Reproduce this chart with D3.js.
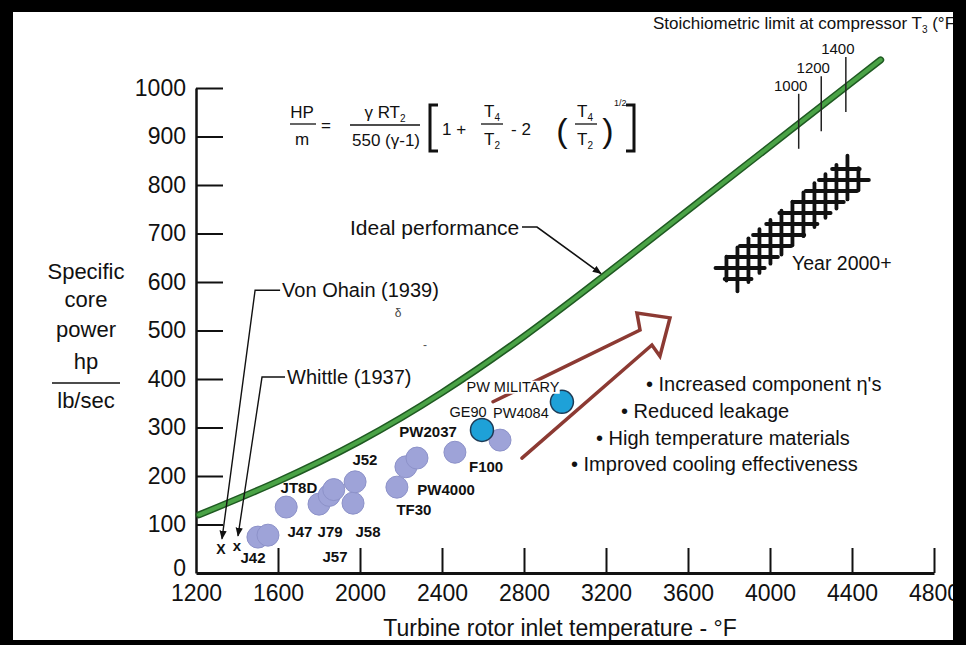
<!DOCTYPE html>
<html>
<head>
<meta charset="utf-8">
<script src="https://cdn.jsdelivr.net/npm/d3@7"></script>
<style>
    body { margin: 0; background: #fff; }
    svg { display: block; font-family: "Liberation Sans", Arial, sans-serif; }
</style>
</head>
<body>
<div id="chart"></div>
<script>
// --- data ---
const xTicks = [1200, 1600, 2000, 2400, 2800, 3200, 3600, 4000, 4400, 4800]
const yTicks = [0, 100, 200, 300, 400, 500, 600, 700, 800, 900, 1000]

// ideal performance curve (turbine inlet temp °F, hp/(lb/sec))
const idealTemp = [1215, 1600, 2000, 2400, 2800, 3200, 3600, 4000, 4400, 4540]
const idealHp = [120, 189, 272, 372, 488, 616, 748, 880, 1012, 1058]

// stoichiometric limit at compressor T3 marks along the ideal curve
const stoichLabels = ["1000", "1200", "1400"]
const stoichTemp = [4140, 4250, 4370]

// engine points
const pointTemp = [1502, 1551, 1640, 1800, 1850, 1872, 1966, 1976, 2180, 2224, 2278, 2463, 2683, 2595, 2985]
const pointHp = [74, 78, 136, 142, 160, 172, 144, 188, 177, 219, 237, 249, 274, 295, 353]
const pointKind = ["old", "old", "old", "old", "old", "old", "old", "old", "old", "old", "old", "old", "old", "new", "new"]

// engine labels, anchored in data units
const engineLabels = ["J42", "J47", "J79", "J58", "J57", "JT8D", "J52", "TF30", "PW4000", "F100", "PW2037"]
const engineLabelTemp = [1478, 1707, 1854, 2039, 1878, 1702, 2024, 2263, 2420, 2615, 2332]
const engineLabelHp = [31, 85, 85, 85, 33, 175, 233, 130, 171, 219, 291]

const modernLabels = ["GE90", "PW4084", "PW MILITARY"]
const modernLabelTemp = [2527, 2785, 2746]
const modernLabelHp = [332, 330, 384]

// first jet engines
const pioneerNames = ["Von Ohain (1939)", "Whittle (1937)"]
const pioneerMarks = ["X", "x"]
const pioneerTemp = [1322, 1400]
const pioneerHp = [52, 58]
const pioneerLabelTemp = [1620, 1644]
const pioneerLabelHp = [583, 404]

// trend arrow outline (data units)
const arrowTemp = [2790, 3424, 3463, 3512, 3351, 3366, 2649]
const arrowHp = [237, 470, 447, 526, 536, 501, 353]

// Year 2000+ band (centre line, data units)
const bandTemp = [3790, 4425]
const bandHp = [608, 832]

const bullets = ["• Increased component η's", "• Reduced leakage", "• High temperature materials", "• Improved cooling effectiveness"]

// --- layout ---
const width = 966
const height = 645

const x = d3.scaleLinear().domain([1200, 4800]).range([196, 934])
const y = d3.scaleLinear().domain([0, 1000]).range([573, 88])

const svg = d3.select("#chart").append("svg").attr("width", width).attr("height", height)
svg.append("rect").attr("width", width).attr("height", height).attr("fill", "#fff")

const defs = svg.append("defs")
defs.append("marker")
    .attr("id", "arrowhead")
    .attr("viewBox", "0 0 10 10")
    .attr("refX", 9)
    .attr("refY", 5)
    .attr("markerWidth", 9)
    .attr("markerHeight", 9)
    .attr("markerUnits", "userSpaceOnUse")
    .attr("orient", "auto")
    .append("path")
    .attr("d", "M0,1 L10,5 L0,9 Z")
    .attr("fill", "#111")

// --- axes ---
const yAxis = svg.append("g")
    .attr("transform", `translate(${x(1200)},0)`)
    .call(d3.axisLeft(y).tickValues(yTicks).tickFormat(d3.format("d")).tickSize(-27).tickSizeOuter(0).tickPadding(10))
yAxis.attr("font-size", null).attr("font-family", null)
yAxis.select(".domain").attr("stroke", "#111").attr("stroke-width", 2.5)
yAxis.selectAll(".tick line").attr("stroke", "#111").attr("stroke-width", 2)
    .filter((d) => d === 0).remove()
yAxis.selectAll(".tick text").attr("font-size", 23).attr("fill", "#111")
    .filter((d) => d === 0).attr("dy", "0.1em")

const xAxis = svg.append("g")
    .attr("transform", `translate(0,${y(0)})`)
    .call(d3.axisBottom(x).tickValues(xTicks).tickFormat(d3.format("d")).tickSize(-25).tickSizeOuter(0).tickPadding(12))
xAxis.attr("font-size", null).attr("font-family", null)
xAxis.select(".domain").attr("stroke", "#111").attr("stroke-width", 3)
xAxis.selectAll(".tick line").attr("stroke", "#111").attr("stroke-width", 2)
    .filter((d) => d === 1200).remove()
xAxis.selectAll(".tick text").attr("font-size", 23).attr("fill", "#111")

svg.append("text")
    .attr("x", 560)
    .attr("y", 636)
    .attr("text-anchor", "middle")
    .attr("font-size", 23)
    .attr("fill", "#111")
    .text("Turbine rotor inlet temperature - °F")

const yTitle = svg.append("g").attr("font-size", 22).attr("fill", "#111").attr("text-anchor", "middle")
;[["Specific", 279], ["core", 307], ["power", 337], ["hp", 369], ["lb/sec", 408]].forEach(([t, ty]) => {
    yTitle.append("text").attr("x", 86).attr("y", ty).text(t)
})
svg.append("line").attr("x1", 52).attr("x2", 120).attr("y1", 383).attr("y2", 383).attr("stroke", "#111").attr("stroke-width", 1.5)

// --- ideal performance curve ---
const ideal = idealTemp.map((t, i) => [t, idealHp[i]])
const idealAt = (t) => {
    const i = Math.max(1, Math.min(idealTemp.length - 1, d3.bisectLeft(idealTemp, t)))
    const f = (t - idealTemp[i - 1]) / (idealTemp[i] - idealTemp[i - 1])
    return idealHp[i - 1] + f * (idealHp[i] - idealHp[i - 1])
}
const curveLine = d3.line().x((d) => x(d[0])).y((d) => y(d[1])).curve(d3.curveNatural)

svg.append("path").attr("d", curveLine(ideal)).attr("fill", "none")
    .attr("stroke", "#1f5a22").attr("stroke-width", 7).attr("stroke-linecap", "round")
svg.append("path").attr("d", curveLine(ideal)).attr("fill", "none")
    .attr("stroke", "#4aa346").attr("stroke-width", 4).attr("stroke-linecap", "round")

// stoichiometric marks
stoichTemp.forEach((t, i) => {
    const cx = x(t)
    const cy = y(idealAt(t))
    svg.append("line").attr("x1", cx).attr("x2", cx).attr("y1", cy - 30).attr("y2", cy + 25)
        .attr("stroke", "#222").attr("stroke-width", 1.5)
    svg.append("text").attr("x", cx - 8).attr("y", cy - 33).attr("text-anchor", "middle")
        .attr("font-size", 15).attr("fill", "#111").text(stoichLabels[i])
})

svg.append("text")
    .attr("x", 653)
    .attr("y", 29)
    .attr("font-size", 17)
    .attr("fill", "#111")
    .call((t) => {
        t.append("tspan").text("Stoichiometric limit at compressor T")
        t.append("tspan").attr("font-size", 10).attr("dy", 4).text("3")
        t.append("tspan").attr("dy", -4).text(" (°F)")
    })

// ideal performance label + leader
svg.append("text").attr("x", 350).attr("y", 235).attr("font-size", 21).attr("fill", "#111").text("Ideal performance")
const tipT = 3185
svg.append("path")
    .attr("d", `M522,227 H537 L${x(tipT) - 2},${y(idealAt(tipT)) - 3}`)
    .attr("fill", "none").attr("stroke", "#111").attr("stroke-width", 1.6)
    .attr("marker-end", "url(#arrowhead)")

// --- formula ---
const formula = svg.append("g").attr("font-size", 17).attr("fill", "#111")
const ftext = (tx, ty, s, anchor = "middle") => formula.append("text").attr("x", tx).attr("y", ty).attr("text-anchor", anchor).text(s)
const fline = (x1, x2, ly) => formula.append("line").attr("x1", x1).attr("x2", x2).attr("y1", ly).attr("y2", ly).attr("stroke", "#111").attr("stroke-width", 1.3)
const withSub = (sel, base, sub) => {
    sel.text(null)
    sel.append("tspan").text(base)
    sel.append("tspan").attr("font-size", 10).attr("dy", 4).text(sub)
}
ftext(302, 118, "HP")
fline(290, 316, 124)
ftext(302, 145, "m")
ftext(326, 131, "=")
withSub(ftext(385, 118, ""), "γ RT", "2")
fline(350, 420, 125)
ftext(386, 146, "550 (γ-1)")
formula.append("path").attr("d", "M438,105 H430 V151 H438").attr("fill", "none").attr("stroke", "#111").attr("stroke-width", 3)
formula.append("path").attr("d", "M626,105 H634 V151 H626").attr("fill", "none").attr("stroke", "#111").attr("stroke-width", 3)
ftext(442, 135, "1 +", "start")
withSub(ftext(492, 117, ""), "T", "4")
fline(481, 503, 124)
withSub(ftext(492, 145, ""), "T", "2")
ftext(511, 135, "- 2", "start")
formula.append("text").attr("x", 562).attr("y", 142).attr("text-anchor", "middle").attr("font-size", 34).attr("font-weight", 300).text("(")
formula.append("text").attr("x", 608).attr("y", 142).attr("text-anchor", "middle").attr("font-size", 34).attr("font-weight", 300).text(")")
withSub(ftext(585, 117, ""), "T", "4")
fline(575, 597, 124)
withSub(ftext(585, 145, ""), "T", "2")
formula.append("text").attr("x", 614).attr("y", 106).attr("font-size", 9).text("1/2")

// --- Year 2000+ band: grid strokes that poke a little past the band edge ---
const bA = [x(bandTemp[0]), y(bandHp[0])]
const bB = [x(bandTemp[1]), y(bandHp[1])]
const len = Math.hypot(bB[0] - bA[0], bB[1] - bA[1])
const ux = (bB[0] - bA[0]) / len
const uy = (bB[1] - bA[1]) / len
const nx = -uy
const ny = ux
const half = 14.5
const overhang = 3
const step = 11

// range of parameter s along a line p0 + s*dir that stays inside the band
const bandRange = (p0, dir) => {
    let lo = -Infinity
    let hi = Infinity
    const limit = (a, b, min, max) => {
        if (Math.abs(b) < 1e-9) {
            if (a < min || a > max) { lo = 1; hi = 0 }
            return
        }
        let s1 = (min - a) / b
        let s2 = (max - a) / b
        if (s1 > s2) [s1, s2] = [s2, s1]
        lo = Math.max(lo, s1)
        hi = Math.min(hi, s2)
    }
    const rx = p0[0] - bA[0]
    const ry = p0[1] - bA[1]
    limit(nx * rx + ny * ry, nx * dir[0] + ny * dir[1], -half, half)
    limit(ux * rx + uy * ry, ux * dir[0] + uy * dir[1], 0, len)
    return [lo, hi]
}

const hatch = svg.append("g").attr("stroke", "#111").attr("stroke-width", 3.8).attr("stroke-linecap", "round")
const xMin = Math.min(bA[0], bB[0]) - half
const xMax = Math.max(bA[0], bB[0]) + half
const yMin = Math.min(bA[1], bB[1]) - half
const yMax = Math.max(bA[1], bB[1]) + half
for (let hx = xMin + 3; hx <= xMax; hx += step) {
    const [lo, hi] = bandRange([hx, 0], [0, 1])
    if (hi - lo < 8) continue
    hatch.append("line").attr("x1", hx).attr("x2", hx).attr("y1", lo - overhang).attr("y2", hi + overhang)
}
for (let hy = yMin + 3; hy <= yMax; hy += step) {
    const [lo, hi] = bandRange([0, hy], [1, 0])
    if (hi - lo < 8) continue
    hatch.append("line").attr("x1", lo - overhang).attr("x2", hi + overhang).attr("y1", hy).attr("y2", hy)
}
svg.append("text").attr("x", 792).attr("y", 270).attr("font-size", 19.5).attr("fill", "#111").text("Year 2000+")

// --- trend arrow ---
svg.append("path")
    .attr("d", d3.line().x((d) => x(d[0])).y((d) => y(d[1]))(arrowTemp.map((t, i) => [t, arrowHp[i]])))
    .attr("fill", "none")
    .attr("stroke", "#8c3a33")
    .attr("stroke-width", 3.5)
    .attr("stroke-linejoin", "miter")
    .attr("stroke-linecap", "round")

// bullets
const bulletX = [646, 621, 596, 571]
const bulletY = [391, 418, 445, 471]
bullets.forEach((b, i) => {
    svg.append("text").attr("x", bulletX[i]).attr("y", bulletY[i]).attr("font-size", 20).attr("fill", "#111").text(b)
})

// --- pioneers ---
pioneerNames.forEach((name, i) => {
    const px = x(pioneerTemp[i])
    const py = y(pioneerHp[i])
    const lx = x(pioneerLabelTemp[i])
    const ly = y(pioneerLabelHp[i])
    const elbow = lx - (i === 0 ? 27 : 25)
    svg.append("path")
        .attr("d", `M${lx - 2},${ly} H${elbow} L${px + 1},${py - 9}`)
        .attr("fill", "none").attr("stroke", "#111").attr("stroke-width", 1.4)
        .attr("marker-end", "url(#arrowhead)")
    svg.append("text").attr("x", px).attr("y", py + 6).attr("text-anchor", "middle")
        .attr("font-size", i === 0 ? 14 : 15).attr("font-weight", 700).attr("fill", "#111").text(pioneerMarks[i])
    svg.append("text").attr("x", lx).attr("y", ly + 7).attr("font-size", 20).attr("fill", "#111").text(name)
})

// stray marks on the original figure
svg.append("text").attr("x", 398).attr("y", 317).attr("text-anchor", "middle").attr("font-size", 12).attr("fill", "#444").text("δ")
svg.append("text").attr("x", 425).attr("y", 349).attr("text-anchor", "middle").attr("font-size", 12).attr("fill", "#555").text("-")

// --- engine points ---
const points = pointTemp.map((t, i) => ({ t, hp: pointHp[i], kind: pointKind[i] }))
svg.append("g")
    .selectAll("circle")
    .data(points)
    .join("circle")
    .attr("cx", (d) => x(d.t))
    .attr("cy", (d) => y(d.hp))
    .attr("r", (d) => (d.kind === "new" ? 11.5 : 11))
    .attr("fill", (d) => (d.kind === "new" ? "#1ea1d8" : "#9ea3d8"))
    .attr("stroke", (d) => (d.kind === "new" ? "#1d3a55" : "#8d92c9"))
    .attr("stroke-width", (d) => (d.kind === "new" ? 1.5 : 1))

svg.append("g")
    .selectAll("text")
    .data(engineLabels)
    .join("text")
    .attr("x", (d, i) => x(engineLabelTemp[i]))
    .attr("y", (d, i) => y(engineLabelHp[i]) + 5)
    .attr("text-anchor", "middle")
    .attr("font-size", 15)
    .attr("font-weight", 700)
    .attr("fill", "#111")
    .text((d) => d)

const modern = svg.append("g")
modernLabels.forEach((name, i) => {
    const t = modern.append("text")
        .attr("x", x(modernLabelTemp[i]))
        .attr("y", y(modernLabelHp[i]) + 5)
        .attr("text-anchor", "middle")
        .attr("font-size", 14.5)
        .attr("fill", "#111")
        .text(name)
    if (name === "PW MILITARY") {
        const bb = t.node().getBBox()
        modern.insert("rect", "text").attr("x", bb.x).attr("y", bb.y + 2).attr("width", bb.width).attr("height", bb.height - 3).attr("fill", "#fff")
    }
})

// --- frame ---
const frame = svg.append("g").attr("fill", "#000")
frame.append("rect").attr("x", 0).attr("y", 0).attr("width", width).attr("height", 12)
frame.append("rect").attr("x", 0).attr("y", 640).attr("width", width).attr("height", 5)
frame.append("rect").attr("x", 0).attr("y", 0).attr("width", 13).attr("height", height)
frame.append("rect").attr("x", 953).attr("y", 0).attr("width", 13).attr("height", height)
</script>
</body>
</html>
